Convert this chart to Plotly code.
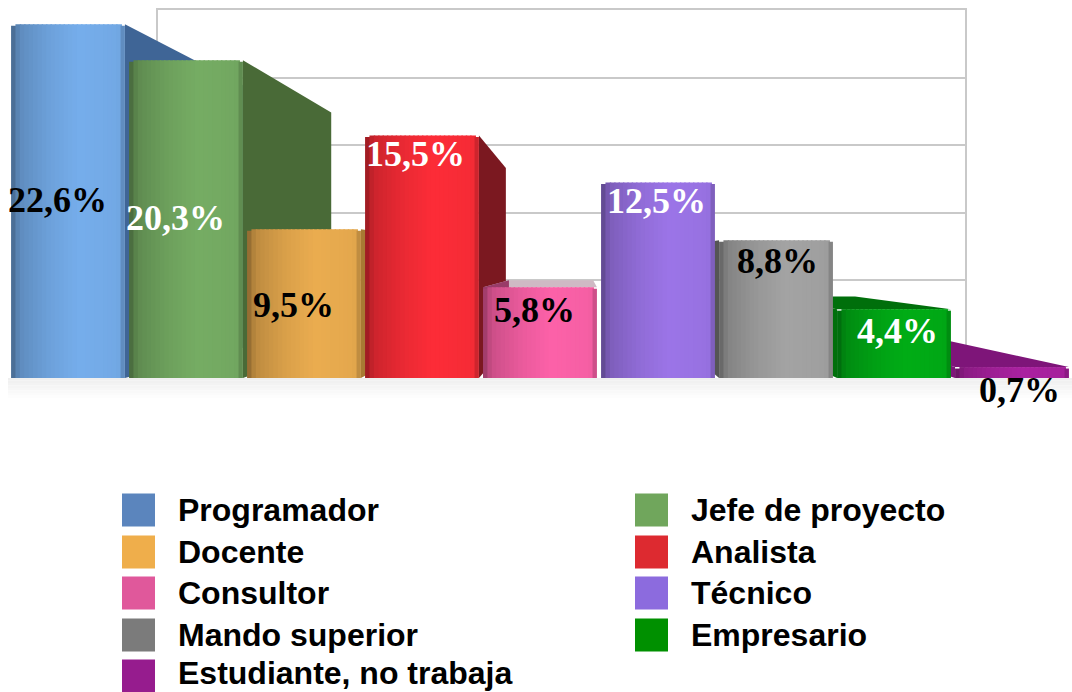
import numpy as np
import plotly.graph_objects as go

# ---- data ----
CATEGORIES = ["Programador", "Jefe de proyecto", "Docente", "Analista", "Consultor",
              "Técnico", "Mando superior", "Empresario", "Estudiante, no trabaja"]
VALUES = [22.6, 20.3, 9.5, 15.5, 5.8, 12.5, 8.8, 4.4, 0.7]

# ---- styles ----
SWATCH = ["#5b85bd", "#70a65c", "#efae4b", "#dd2a30", "#e0589b", "#8c6bde", "#7b7b7b", "#009000", "#961c8e"]
LIT = ["#76aeec", "#76ad64", "#ebad50", "#fd2d38", "#fd62a9", "#9c75e8", "#a4a4a4", "#00ad16", "#ab22a1"]
SIDE = ["#3f6596", "#496a37", "#a87a33", "#7b1820", "#993b68", "#5d4899", "#555555", "#006f0b", "#7e1579"]
TOP = ["#3f6596", "#496a37", "#a87a33", "#7b1820", "#cfb9c4", "#5d4899", "#555555", "#006f0b", "#7e1579"]
LABEL_COLOR = ["black", "white", "black", "white", "black", "white", "black", "white", "black"]
LABEL_PX = [(58, 200), (175, 218), (293, 305), (415, 154), (534, 310), (656, 201), (777, 261), (897, 331), (1019, 390)]

W, H = 1072, 692
X0, XS, Y0, YS = 68, 118, 378, 15.65   # pixel mapping of the plot axes
BAR_W = 0.965
VP = (4.36, 7.5)                       # vanishing point, in axis units
DEPTH = 0.26
STRIPS = 26
PROFILE_T = [0, 0.03, 0.1, 0.35, 0.6, 0.94, 0.985, 1]
PROFILE_F = [0.5, 0.72, 0.82, 0.93, 1.0, 0.97, 0.8, 0.6]
CORNER_INSET_PX = {0: 1.5, STRIPS - 1: 1.5}


def shade(hex_color, f):
    rgb = [int(hex_color[i:i + 2], 16) for i in (1, 3, 5)]
    return "rgb({},{},{})".format(*[min(255, int(c * f)) for c in rgb])


def back(x, y):
    return x + (VP[0] - x) * DEPTH, y + (VP[1] - y) * DEPTH


fig = go.Figure()

# back wall: real gridlines on their own axes
fig.add_trace(go.Scatter(x=[None], y=[None], xaxis="x", yaxis="y", showlegend=False, hoverinfo="skip"))

# depth faces, far ones first
idx = list(range(len(VALUES)))
for i in sorted(idx, key=lambda k: -abs(k - VP[0])):
    v = VALUES[i]
    l, r = i - BAR_W / 2, i + BAR_W / 2
    # top face: only seen on bars lower than the vanishing point
    if v < VP[1]:
        blx, bly = back(l, v)
        brx, bry = back(r, v)
        fig.add_trace(go.Scatter(x=[l, r, brx, blx, l], y=[v, v, bry, bly, v], xaxis="x2", yaxis="y2",
                                 mode="lines", line=dict(width=0), fill="toself", fillcolor=TOP[i],
                                 showlegend=False, hoverinfo="skip"))
    # side face, on the side that faces the vanishing point (bars next to it show none)
    ex = r if r < VP[0] else l
    if abs(ex - VP[0]) > 0.5:
        bx, by0 = back(ex, v)
        _, by1 = back(ex, 0)
        fig.add_trace(go.Scatter(x=[ex, bx, bx, ex, ex], y=[v, by0, by1, 0, v], xaxis="x2", yaxis="y2",
                                 mode="lines", line=dict(width=0), fill="toself", fillcolor=SIDE[i],
                                 showlegend=False, hoverinfo="skip"))

# fronts: vertical strips give the rounded shading
for k in range(STRIPS):
    t = (k + 0.5) / STRIPS
    f = float(np.interp(t, PROFILE_T, PROFILE_F))
    width = BAR_W / STRIPS + (0.012 if k < STRIPS - 1 else 0)
    inset = CORNER_INSET_PX.get(k, 0) / YS
    fig.add_trace(go.Bar(x=idx, y=[v - inset for v in VALUES], xaxis="x2", yaxis="y3",
                         width=width, offset=-BAR_W / 2 + k * BAR_W / STRIPS,
                         marker=dict(color=[shade(c, f) for c in LIT], line=dict(width=0)),
                         showlegend=False, hovertext=CATEGORIES, hoverinfo="text"))

annotations, shapes = [], []

# value labels
for i, v in enumerate(VALUES):
    px, py = LABEL_PX[i]
    annotations.append(dict(x=px / W, y=1 - py / H, xref="paper", yref="paper", showarrow=False,
                            text="<b>" + f"{v:.1f}%".replace(".", ",") + "</b>",
                            font=dict(family="Liberation Serif", size=36, color=LABEL_COLOR[i]),
                            xanchor="center", yanchor="middle"))

# legend: two columns
ROW_Y = [510, 552, 593, 635, 676]
COL_SW = [122, 635]
COL_TX = [176, 689]
for i, name in enumerate(CATEGORIES):
    col, row = i % 2, i // 2
    y = ROW_Y[row]
    shapes.append(dict(type="rect", xref="paper", yref="paper", layer="above",
                       x0=COL_SW[col] / W, x1=(COL_SW[col] + 33) / W,
                       y0=1 - (y - 16.5) / H, y1=max(0, 1 - (y + 16.5) / H),
                       fillcolor=SWATCH[i], line=dict(width=0)))
    annotations.append(dict(x=COL_TX[col] / W, y=1 - min(y, 673) / H, xref="paper", yref="paper", showarrow=False,
                            text=f"<b>{name}</b>", xanchor="left", yanchor="middle",
                            font=dict(family="Liberation Sans", size=32, color="black")))

# soft floor shadow
for j in range(8):
    shapes.append(dict(type="rect", xref="paper", yref="paper", layer="below",
                       x0=8 / W, x1=1, y0=1 - (378 + j * 2.5) / H, y1=1 - (378 + (j + 1) * 2.5) / H,
                       fillcolor=shade("#ffffff", 0.94 + j * 0.0075), line=dict(width=0)))

hidden = dict(showticklabels=False, ticks="", showgrid=False, zeroline=False, showline=False)
x_range = [(0 - X0) / XS, (W - X0) / XS]
y_range = [(Y0 - H) / YS, Y0 / YS]
fig.update_layout(
    width=W, height=H, margin=dict(l=0, r=0, t=0, b=0), autosize=False,
    paper_bgcolor="white", plot_bgcolor="rgba(0,0,0,0)", barmode="overlay", showlegend=False,
    shapes=shapes, annotations=annotations,
    xaxis=dict(domain=[158 / W, 965 / W], range=[0, 1], anchor="y", side="top", fixedrange=True,
               showticklabels=False, ticks="", showgrid=False, zeroline=False,
               showline=True, linecolor="#c9c9c9", linewidth=2),
    yaxis=dict(domain=[1 - 347.5 / H, 1 - 10 / H], range=[0, 25], anchor="x", tickvals=[5, 10, 15, 20],
               showticklabels=False, ticks="", showgrid=True, gridcolor="#c9c9c9", gridwidth=2, zeroline=False,
               showline=True, linecolor="#c9c9c9", linewidth=2, mirror=True, fixedrange=True),
    xaxis2=dict(domain=[0, 1], range=x_range, anchor="y2", **hidden),
    yaxis2=dict(domain=[0, 1], range=y_range, anchor="x2", **hidden),
    yaxis3=dict(range=y_range, anchor="x2", overlaying="y2", **hidden),
)

fig.write_html("out.html", config={"displayModeBar": False},
               post_script="document.body.style.margin='0';document.body.style.overflow='hidden';")
